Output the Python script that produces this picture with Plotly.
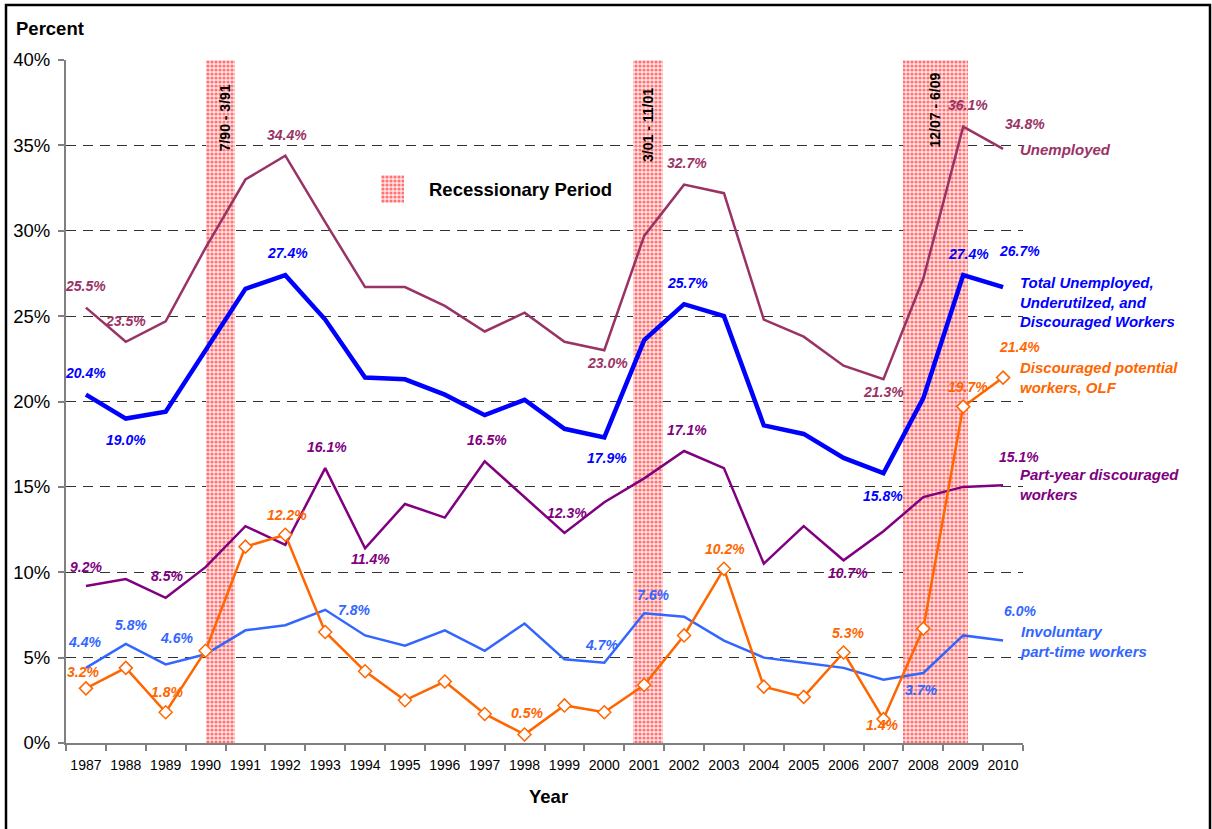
import plotly.graph_objects as go

# ---------------- data ----------------
years = list(range(1987, 2011))

unemployed = [25.5, 23.5, 24.7, 29.0, 33.0, 34.4, 30.5, 26.7, 26.7, 25.6, 24.1, 25.2,
              23.5, 23.0, 29.7, 32.7, 32.2, 24.8, 23.8, 22.1, 21.3, 27.2, 36.1, 34.8]
total_underutilized = [20.4, 19.0, 19.4, 23.0, 26.6, 27.4, 24.8, 21.4, 21.3, 20.4, 19.2, 20.1,
                       18.4, 17.9, 23.6, 25.7, 25.0, 18.6, 18.1, 16.7, 15.8, 20.2, 27.4, 26.7]
part_year = [9.2, 9.6, 8.5, 10.3, 12.7, 11.6, 16.1, 11.4, 14.0, 13.2, 16.5, 14.4,
             12.3, 14.1, 15.5, 17.1, 16.1, 10.5, 12.7, 10.7, 12.4, 14.4, 15.0, 15.1]
involuntary = [4.4, 5.8, 4.6, 5.2, 6.6, 6.9, 7.8, 6.3, 5.7, 6.6, 5.4, 7.0,
               4.9, 4.7, 7.6, 7.4, 6.0, 5.0, 4.7, 4.4, 3.7, 4.1, 6.3, 6.0]
discouraged_olf = [3.2, 4.4, 1.8, 5.4, 11.5, 12.2, 6.5, 4.2, 2.5, 3.6, 1.7, 0.5,
                   2.2, 1.8, 3.4, 6.3, 10.2, 3.3, 2.7, 5.3, 1.4, 6.7, 19.7, 21.4]

recession_labels = ["7/90 - 3/91", "3/01 - 11/01", "12/07 - 6/09"]
recession_start = [1990.0, 2000.72, 2007.49]
recession_end = [1990.74, 2001.47, 2009.12]
recession_top = 40

y_ticks = [0, 5, 10, 15, 20, 25, 30, 35, 40]

series_names = ["Unemployed",
                "Total Unemployed,<br>Underutilzed, and<br>Discouraged Workers",
                "Discouraged potential<br>workers, OLF",
                "Part-year discouraged<br>workers",
                "Involuntary<br>part-time workers"]

# ---------------- style ----------------
C_UNEMP = "#993366"
C_TOTAL = "#0000FF"
C_PART = "#800080"
C_INVOL = "#3366FF"
C_OLF = "#FF6600"
FONT = "Liberation Sans, Arial, sans-serif"

L, R, T, B = 66, 189, 60, 86
W, H = 1212, 829
PW, PH = W - L - R, H - T - B


def px_x(px):
    return (px - L) / PW


def px_y(py):
    return (H - B - py) / PH


REC_PATTERN = dict(shape=".", fgcolor="#FF0000", bgcolor="#FFE6E6", size=4, solidity=0.5)

fig = go.Figure()

# recession bars
fig.add_trace(go.Bar(
    x=[(s + e) / 2 for s, e in zip(recession_start, recession_end)],
    y=[recession_top] * len(recession_start),
    width=[e - s for s, e in zip(recession_start, recession_end)],
    marker=dict(color="#FFD6D6", line=dict(width=0), pattern=REC_PATTERN),
    showlegend=False, hoverinfo="skip"))

# legend swatch (small separate axes)
fig.add_trace(go.Bar(
    x=[0], y=[1], width=[1], xaxis="x2", yaxis="y2",
    marker=dict(color="#FFD6D6", line=dict(width=0), pattern=REC_PATTERN),
    showlegend=False, hoverinfo="skip"))

fig.add_trace(go.Scatter(x=years, y=unemployed, mode="lines",
                         line=dict(color=C_UNEMP, width=2.5), showlegend=False))
fig.add_trace(go.Scatter(x=years, y=total_underutilized, mode="lines",
                         line=dict(color=C_TOTAL, width=4.5), showlegend=False))
fig.add_trace(go.Scatter(x=years, y=part_year, mode="lines",
                         line=dict(color=C_PART, width=2.5), showlegend=False))
fig.add_trace(go.Scatter(x=years, y=involuntary, mode="lines",
                         line=dict(color=C_INVOL, width=2.5), showlegend=False))
fig.add_trace(go.Scatter(x=years, y=discouraged_olf, mode="lines+markers",
                         line=dict(color=C_OLF, width=2.5),
                         marker=dict(symbol="diamond", size=10, color="white",
                                     line=dict(color=C_OLF, width=1.5)),
                         showlegend=False))

annotations = []

# data labels: (year, xshift, yshift)
label_specs = [
    (unemployed, C_UNEMP, [(1987, 0, 22), (1988, 0, 21), (1992, 2, 21), (2000, 3, -13),
                           (2002, 3, 22), (2007, 0, -13), (2009, 5, 22), (2010, 22, 25)]),
    (total_underutilized, C_TOTAL, [(1987, 0, 22), (1988, 0, -21), (1992, 2, 22), (2000, 3, -21),
                                    (2002, 3, 21), (2007, 0, -23), (2009, 5, 21), (2010, 16, 36)]),
    (part_year, C_PART, [(1987, 0, 19), (1989, 1, 22), (1993, 2, 21), (1994, 5, -11),
                         (1997, 2, 21), (1999, 3, 20), (2002, 3, 21), (2006, 4, -13),
                         (2010, 16, 28)]),
    (involuntary, C_INVOL, [(1987, -1, 26), (1988, 5, 19), (1989, 11, 26), (1993, 29, 0),
                            (2000, -3, 18), (2001, 9, 18), (2007, 38, -10), (2010, 17, 30)]),
    (discouraged_olf, C_OLF, [(1987, -3, 16), (1989, 1, 20), (1992, 2, 20), (1998, 2, 21),
                              (2003, 1, 20), (2006, 4, 20), (2007, -1, -6), (2009, 5, 20),
                              (2010, 16, 31)]),
]
for values, color, specs in label_specs:
    for yr, dx, dy in specs:
        v = values[years.index(yr)]
        annotations.append(dict(
            x=yr, y=v, xref="x", yref="y", text=f"<b><i>{v:.1f}%</i></b>",
            showarrow=False, xshift=dx, yshift=dy, xanchor="center", yanchor="middle",
            font=dict(family=FONT, size=14, color=color)))

# series names at right
name_pos = [(149, C_UNEMP), (302, C_TOTAL), (378, C_OLF), (484.5, C_PART), (641.5, C_INVOL)]
for name, (py, color) in zip(series_names, name_pos):
    annotations.append(dict(
        x=px_x(1018), y=px_y(py), xref="paper", yref="paper",
        text=f"<b><i>{name}</i></b>", showarrow=False, xanchor="left", yanchor="middle",
        align="left", font=dict(family=FONT, size=15, color=color)))

# recession period labels
rec_text_y = [118, 125, 110]
rec_text_dx = [5, 0, 0]
for lab, s, e, py, dx in zip(recession_labels, recession_start, recession_end, rec_text_y, rec_text_dx):
    annotations.append(dict(
        x=(s + e) / 2, y=px_y(py), xref="x", yref="paper", xshift=dx,
        xanchor="center", yanchor="middle",
        text=f"<b>{lab}</b>", textangle=-90, showarrow=False,
        font=dict(family=FONT, size=14, color="black")))

# legend text
annotations.append(dict(
    x=px_x(427), y=px_y(189), xref="paper", yref="paper", text="<b>Recessionary Period</b>",
    showarrow=False, xanchor="left", yanchor="middle",
    font=dict(family=FONT, size=18.5, color="black")))

# axis titles
annotations.append(dict(
    x=px_x(14), y=px_y(29), xref="paper", yref="paper", text="<b>Percent</b>",
    showarrow=False, xanchor="left", yanchor="middle",
    font=dict(family=FONT, size=18.5, color="black")))
annotations.append(dict(
    x=px_x(548), y=px_y(796), xref="paper", yref="paper", text="<b>Year</b>",
    showarrow=False, xanchor="center", yanchor="middle",
    font=dict(family=FONT, size=18.5, color="black")))

shapes = [dict(type="rect", xref="paper", yref="paper",
               x0=px_x(6), x1=px_x(1210), y0=px_y(840), y1=px_y(5),
               line=dict(color="black", width=2.5), fillcolor="rgba(0,0,0,0)", layer="above")]

fig.update_layout(
    width=W, height=H,
    margin=dict(l=L, r=R, t=T, b=B),
    paper_bgcolor="white", plot_bgcolor="white",
    font=dict(family=FONT, color="black"),
    barmode="overlay", bargap=0,
    showlegend=False,
    annotations=annotations,
    shapes=shapes,
    xaxis=dict(
        range=[1986.5, 2010.5], tickmode="array", tickvals=years,
        ticktext=[str(y) for y in years], ticks="", showgrid=False,
        showline=True, linecolor="#808080", linewidth=2,
        ticklabelstandoff=8,
        tickfont=dict(family=FONT, size=14, color="black"),
        minor=dict(tick0=1986.5, dtick=1, ticks="outside", ticklen=6,
                   tickcolor="#808080", tickwidth=1.5, showgrid=False),
        zeroline=False, fixedrange=True),
    yaxis=dict(
        range=[0, 40], tickmode="array", tickvals=y_ticks,
        ticktext=[f"{t}%" for t in y_ticks], ticks="outside", ticklen=6,
        tickcolor="#808080", tickwidth=1.5, ticklabelstandoff=4,
        showgrid=True, gridcolor="#333333", gridwidth=1.2, griddash="10px,7px",
        showline=True, linecolor="#808080", linewidth=2,
        tickfont=dict(family=FONT, size=18.5, color="black"),
        zeroline=False, fixedrange=True),
    xaxis2=dict(domain=[px_x(381), px_x(404)], range=[-0.5, 0.5], visible=False,
                anchor="y2", fixedrange=True),
    yaxis2=dict(domain=[px_y(203), px_y(175)], range=[0, 1], visible=False,
                anchor="x2", fixedrange=True),
)

fig.write_html("out.html", config={"displayModeBar": False},
               post_script="document.body.style.margin='0px';")
